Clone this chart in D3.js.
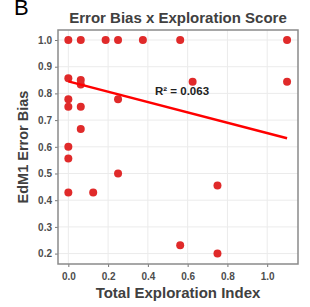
<!DOCTYPE html>
<html>
<head>
<meta charset="utf-8">
<script src="https://cdn.jsdelivr.net/npm/d3@7"></script>
<style>
  body { margin: 0; background: #fff; }
  text { font-family: "Liberation Sans", Arial, sans-serif; }
</style>
</head>
<body>
<div id="chart"></div>
<script>
// exploration index (x) vs EdM1 error bias (y), one entry per subject
var explore = [0, 0.0625, 0.1875, 0.25, 0.375, 0.5625, 1.1,
               1.1, 0.625,
               0, 0.0625, 0.0625, 0, 0.25, 0, 0.0625, 0.0625,
               0, 0, 0, 0.125, 0.25,
               0.75, 0.5625, 0.75];
var bias = [1.0, 1.0, 1.0, 1.0, 1.0, 1.0, 1.0,
            0.844, 0.844,
            0.857, 0.85, 0.833, 0.778, 0.778, 0.75, 0.75, 0.667,
            0.6, 0.556, 0.429, 0.429, 0.5,
            0.455, 0.231, 0.2];

// fitted line endpoints
var fitX = [0, 1.1];
var fitY = [0.845, 0.632];
var r2Label = "R\u00b2 = 0.063";

var xTicks = [0, 0.2, 0.4, 0.6, 0.8, 1.0];
var yTicks = [0.2, 0.3, 0.4, 0.5, 0.6, 0.7, 0.8, 0.9, 1.0];

var W = 310, H = 307;
var pLeft = 58, pRight = 298, pTop = 30, pBottom = 264;

var svg = d3.select('#chart').append('svg')
  .attr('width', W).attr('height', H);

var x = d3.scaleLinear().domain([-0.052, 1.155]).range([pLeft, pRight]);
var y = d3.scaleLinear().domain([0.161, 1.0375]).range([pBottom, pTop]);

// grid
var grid = svg.append('g');
grid.selectAll('.gx').data(xTicks).enter().append('line')
  .attr('x1', function(d){ return x(d); }).attr('x2', function(d){ return x(d); })
  .attr('y1', pTop).attr('y2', pBottom)
  .style('stroke', '#ebebeb').style('stroke-width', 1);
grid.selectAll('.gy').data(yTicks).enter().append('line')
  .attr('x1', pLeft).attr('x2', pRight)
  .attr('y1', function(d){ return y(d); }).attr('y2', function(d){ return y(d); })
  .style('stroke', '#ebebeb').style('stroke-width', 1);

// axes
var xAxis = svg.append('g').attr('transform', 'translate(0,' + pBottom + ')')
  .call(d3.axisBottom(x).tickValues(xTicks).tickFormat(d3.format('.1f')).tickSize(3).tickSizeOuter(0));
var yAxis = svg.append('g').attr('transform', 'translate(' + pLeft + ',0)')
  .call(d3.axisLeft(y).tickValues(yTicks).tickFormat(d3.format('.1f')).tickSize(3).tickSizeOuter(0));
[xAxis, yAxis].forEach(function(a){
  a.select('.domain').remove();
  a.selectAll('line').style('stroke', '#777').style('stroke-width', 1);
  a.selectAll('text').style('font-size', '10px').style('font-weight', 'bold')
    .style('fill', '#4d4d4d');
});
xAxis.selectAll('text').attr('dy', '0.95em');

// panel border
svg.append('rect')
  .attr('x', pLeft).attr('y', pTop)
  .attr('width', pRight - pLeft).attr('height', pBottom - pTop)
  .style('fill', 'none').style('stroke', '#8a8a8a').style('stroke-width', 1.5);

// points
svg.append('g').selectAll('circle')
  .data(explore.map(function(v, i){ return [v, bias[i]]; }))
  .enter().append('circle')
  .attr('cx', function(d){ return x(d[0]); })
  .attr('cy', function(d){ return y(d[1]); })
  .attr('r', 4)
  .style('fill', '#e02a2a');

// fit line
svg.append('line')
  .attr('x1', x(fitX[0])).attr('y1', y(fitY[0]))
  .attr('x2', x(fitX[1])).attr('y2', y(fitY[1]))
  .style('stroke', '#ff0000').style('stroke-width', 2.5);

svg.append('text')
  .attr('x', x(0.436)).attr('y', y(0.81) + 4)
  .style('font-size', '11.5px').style('font-weight', 'bold').style('fill', '#222')
  .text(r2Label);

// titles
svg.append('text')
  .attr('x', 178).attr('y', 23)
  .attr('text-anchor', 'middle')
  .style('font-size', '15px').style('font-weight', 'bold').style('fill', '#404040')
  .text('Error Bias x Exploration Score');

svg.append('text')
  .attr('x', 178).attr('y', 298)
  .attr('text-anchor', 'middle')
  .style('font-size', '15px').style('font-weight', 'bold').style('fill', '#404040')
  .text('Total Exploration Index');

svg.append('text')
  .attr('transform', 'translate(28,' + ((pTop + pBottom) / 2) + ') rotate(-90)')
  .attr('text-anchor', 'middle')
  .style('font-size', '14.5px').style('font-weight', 'bold').style('fill', '#404040')
  .text('EdM1 Error Bias');

svg.append('text')
  .attr('x', 14).attr('y', 15)
  .style('font-size', '22px').style('fill', '#000')
  .text('B');
</script>
</body>
</html>
